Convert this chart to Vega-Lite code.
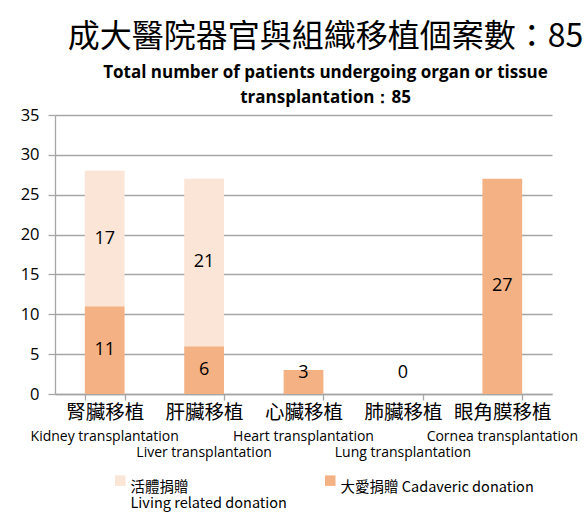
{
  "$schema": "https://vega.github.io/schema/vega-lite/v6.json",
  "width": 497,
  "height": 279,
  "autosize": {"type": "none"},
  "padding": {"left": 55, "top": 115, "right": 35, "bottom": 124},
  "background": "white",
  "title": {
    "text": "成大醫院器官與組織移植個案數：85",
    "font": "Noto Sans CJK TC",
    "fontSize": 32,
    "fontWeight": "normal",
    "color": "#000000",
    "anchor": "middle",
    "dx": 22,
    "offset": 0,
    "subtitle": ["Total number of patients undergoing organ or tissue", "transplantation：85"],
    "subtitleFont": "Open Sans",
    "subtitleFontSize": 17,
    "subtitleFontWeight": "bold",
    "subtitleColor": "#000000",
    "subtitleLineHeight": 25,
    "subtitlePadding": 11
  },
  "config": {
    "view": {"stroke": null},
    "axis": {"gridColor": "#A6A6A6", "domainColor": "#A6A6A6", "tickColor": "#A6A6A6", "gridWidth": 1.3, "domainWidth": 1.3, "tickWidth": 1.3}
  },
  "data": {
    "values": [
      {"organ": "腎臟移植", "type": "大愛捐贈", "value": 11},
      {"organ": "腎臟移植", "type": "活體捐贈", "value": 17},
      {"organ": "肝臟移植", "type": "大愛捐贈", "value": 6},
      {"organ": "肝臟移植", "type": "活體捐贈", "value": 21},
      {"organ": "心臟移植", "type": "大愛捐贈", "value": 3},
      {"organ": "心臟移植", "type": "活體捐贈", "value": 0},
      {"organ": "肺臟移植", "type": "大愛捐贈", "value": 0},
      {"organ": "肺臟移植", "type": "活體捐贈", "value": 0},
      {"organ": "眼角膜移植", "type": "大愛捐贈", "value": 27},
      {"organ": "眼角膜移植", "type": "活體捐贈", "value": 0}
    ]
  },
  "transform": [
    {"stack": "value", "groupby": ["organ"], "sort": [{"field": "type", "order": "ascending"}], "as": ["v0", "v1"]},
    {"calculate": "max((datum.v0 + datum.v1) / 2, 2.6)", "as": "mid"}
  ],
  "resolve": {"axis": {"x": "independent"}},
  "layer": [
    {
      "mark": {"type": "bar"},
      "encoding": {
        "x": {
          "field": "organ",
          "type": "nominal",
          "sort": ["腎臟移植", "肝臟移植", "心臟移植", "肺臟移植", "眼角膜移植"],
          "scale": {"paddingInner": 0.6, "paddingOuter": 0.3},
          "axis": {
            "title": null,
            "orient": "bottom",
            "labelAngle": 0,
            "labelFont": "Noto Sans CJK TC",
            "labelFontSize": 19.5,
            "labelColor": "#000000",
            "labelBaseline": "top",
            "labelPadding": 3,
            "tickSize": 6,
            "tickBand": "extent",
            "grid": false,
            "labelOverlap": false,
            "labelBound": false,
            "labelFlush": false
          }
        },
        "y": {
          "field": "v0",
          "type": "quantitative",
          "scale": {"domain": [0, 35]},
          "axis": {
            "title": null,
            "values": [0, 5, 10, 15, 20, 25, 30, 35],
            "labelFont": "Open Sans",
            "labelFontSize": 16.5,
            "labelColor": "#000000",
            "tickSize": 7,
            "labelPadding": 9,
            "grid": true
          }
        },
        "y2": {"field": "v1"},
        "color": {
          "field": "type",
          "type": "nominal",
          "scale": {"domain": ["活體捐贈", "大愛捐贈"], "range": ["#FBE5D6", "#F4B183"]},
          "legend": {
            "title": null,
            "orient": "none",
            "direction": "horizontal",
            "legendX": 58,
            "legendY": 358,
            "padding": 0,
            "symbolType": "square",
            "symbolSize": 110,
            "symbolStrokeWidth": 0,
            "labelFont": "Noto Sans CJK TC",
            "labelFontSize": 14.5,
            "labelColor": "#000000",
            "labelBaseline": "top",
            "labelOffset": 3,
            "labelLimit": 400,
            "labelLineHeight": 21,
            "columnPadding": 36,
            "labelExpr": "datum.value == '活體捐贈' ? ['活體捐贈', ' Living related donation'] : ['大愛捐贈 Cadaveric donation', ' ']"
          }
        }
      }
    },
    {
      "transform": [{"filter": "datum.value > 0 || datum.type == '大愛捐贈'"}],
      "mark": {"type": "text", "font": "Open Sans", "fontSize": 18, "color": "#000000", "baseline": "middle"},
      "encoding": {
        "x": {
          "field": "organ",
          "type": "nominal",
          "sort": ["腎臟移植", "肝臟移植", "心臟移植", "肺臟移植", "眼角膜移植"],
          "axis": {
            "title": null,
            "orient": "bottom",
            "domain": false,
            "ticks": false,
            "grid": false,
            "labelAngle": 0,
            "labelFont": "Open Sans",
            "labelFontSize": 14,
            "labelColor": "#000000",
            "labelBaseline": "top",
            "labelPadding": 35,
            "labelLineHeight": 16,
            "labelOverlap": false,
            "labelBound": false,
            "labelFlush": false,
            "labelLimit": 300,
            "labelExpr": "datum.value == '腎臟移植' ? 'Kidney transplantation' : datum.value == '肝臟移植' ? ['', 'Liver transplantation'] : datum.value == '心臟移植' ? 'Heart transplantation' : datum.value == '肺臟移植' ? ['', 'Lung transplantation'] : 'Cornea transplantation'"
          }
        },
        "y": {
          "field": "mid",
          "type": "quantitative",
          "axis": {
            "title": null,
            "values": [0, 5, 10, 15, 20, 25, 30, 35],
            "labelFont": "Open Sans",
            "labelFontSize": 16.5,
            "labelColor": "#000000",
            "tickSize": 7,
            "labelPadding": 9,
            "grid": true
          }
        },
        "text": {"field": "value", "type": "quantitative"}
      }
    }
  ]
}
